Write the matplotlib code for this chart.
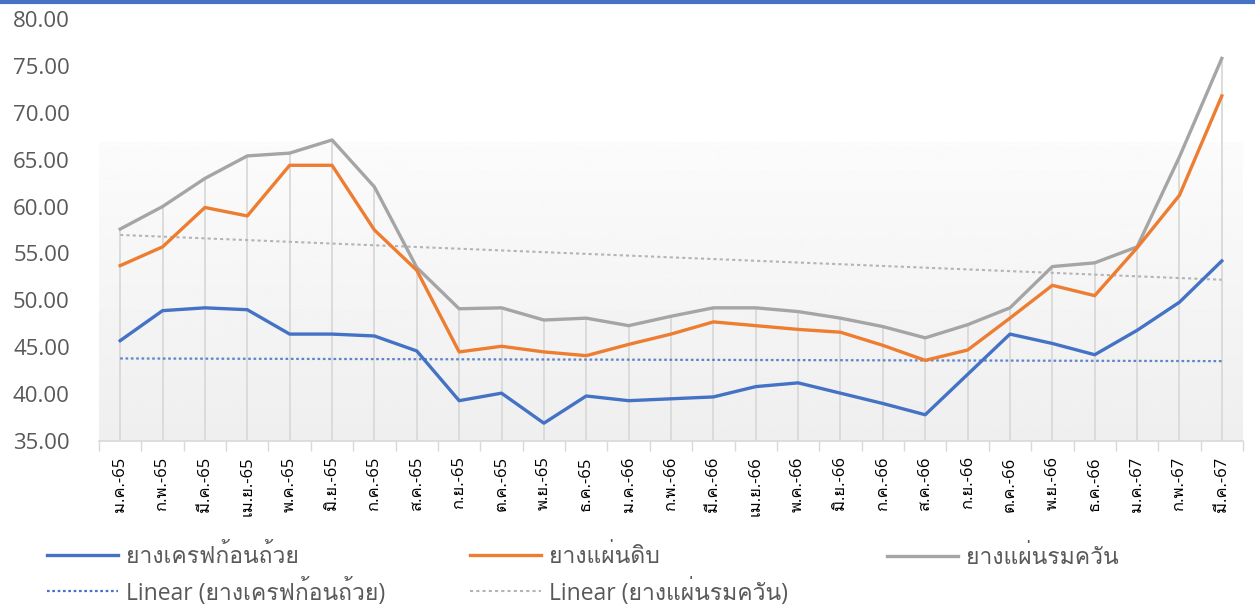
#!/usr/bin/env python3
"""
plot.py
Monthly rubber prices (baht/kg) with linear trend lines.
Saves out.png
"""

import numpy as np
import matplotlib
matplotlib.use("Agg")
import matplotlib.pyplot as plt
from matplotlib import font_manager
from matplotlib.ft2font import FT2Font
from matplotlib.lines import Line2D

# --- Data ---
months = [
    "ม.ค.-65", "ก.พ.-65", "มี.ค.-65", "เม.ย.-65", "พ.ค.-65", "มิ.ย.-65",
    "ก.ค.-65", "ส.ค.-65", "ก.ย.-65", "ต.ค.-65", "พ.ย.-65", "ธ.ค.-65",
    "ม.ค.-66", "ก.พ.-66", "มี.ค.-66", "เม.ย.-66", "พ.ค.-66", "มิ.ย.-66",
    "ก.ค.-66", "ส.ค.-66", "ก.ย.-66", "ต.ค.-66", "พ.ย.-66", "ธ.ค.-66",
    "ม.ค.-67", "ก.พ.-67", "มี.ค.-67",
]
cup_lump = [45.7, 48.9, 49.2, 49.0, 46.4, 46.4, 46.2, 44.6, 39.3, 40.1,
            36.9, 39.8, 39.3, 39.5, 39.7, 40.8, 41.2, 40.1, 39.0, 37.8,
            42.1, 46.4, 45.4, 44.2, 46.8, 49.8, 54.2]
raw_sheet = [53.7, 55.7, 59.9, 59.0, 64.4, 64.4, 57.5, 53.2, 44.5, 45.1,
             44.5, 44.1, 45.3, 46.4, 47.7, 47.3, 46.9, 46.6, 45.2, 43.6,
             44.7, 48.1, 51.6, 50.5, 55.6, 61.2, 71.8]
smoked_sheet = [57.6, 60.0, 63.0, 65.4, 65.7, 67.1, 62.1, 53.5, 49.1, 49.2,
                47.9, 48.1, 47.3, 48.3, 49.2, 49.2, 48.8, 48.1, 47.2, 46.0,
                47.4, 49.2, 53.6, 54.0, 55.7, 65.3, 75.8]

names = ["ยางเครฟก้อนถ้วย", "ยางแผ่นดิบ", "ยางแผ่นรมควัน"]
yticks = [35, 40, 45, 50, 55, 60, 65, 70, 75, 80]

BLUE = "#4472c4"
ORANGE = "#ed7d31"
GRAY = "#a5a5a5"
TREND_GRAY = "#b4b4b4"
TEXT = "#595959"


def find_thai_family():
    # pick any installed font that actually has Thai glyphs
    for f in font_manager.fontManager.ttflist:
        try:
            if 0x0E22 in FT2Font(f.fname).get_charmap():
                return f.name
        except Exception:
            pass
    return None


thai = find_thai_family()
families = ["Open Sans", "DejaVu Sans"]
if thai:
    families = ["Open Sans", thai, "DejaVu Sans"]
plt.rcParams["font.family"] = families


def linear_trend(values):
    x = np.arange(len(values))
    coeffs = np.polyfit(x, values, deg=1)
    return np.poly1d(coeffs)(x)


def add_legend_column(fig, handles, labels, x_px, y_px):
    # one legend per column so each column starts where the reference has it
    leg = fig.legend(handles, labels, loc="center left", frameon=False,
                     bbox_to_anchor=(x_px / 1255, 1 - y_px / 607),
                     borderpad=0, borderaxespad=0, fontsize=16.5,
                     handlelength=3.1, handletextpad=0.35, labelspacing=0.35,
                     labelcolor=TEXT)
    return leg


def main():
    fig = plt.figure(figsize=(12.55, 6.07), dpi=100)
    ax = fig.add_axes([99 / 1255, 1 - 441 / 607, 1144 / 1255, 422 / 607])
    x = np.arange(len(months))

    # soft gradient panel behind the plot
    grad = np.linspace(0.935, 0.985, 200).reshape(-1, 1)
    ax.imshow(grad, cmap="gray", vmin=0, vmax=1, aspect="auto",
              extent=(-0.5, 26.5, 35, 66.8), origin="lower", zorder=0)

    # drop lines from the highest series down to the axis
    top = np.max([cup_lump, raw_sheet, smoked_sheet], axis=0)
    ax.vlines(x, 35, top, colors="#d9d9d9", linewidth=1.3, zorder=1)

    ax.plot(x, linear_trend(cup_lump), color=BLUE, linestyle=(0, (1.2, 1.2)),
            linewidth=1.6, alpha=0.85, zorder=2)
    ax.plot(x, linear_trend(smoked_sheet), color=TREND_GRAY, linestyle=(0, (1.5, 1.5)),
            linewidth=1.5, zorder=2)

    ax.plot(x, smoked_sheet, color=GRAY, linewidth=2.4, zorder=3)
    ax.plot(x, raw_sheet, color=ORANGE, linewidth=2.4, zorder=4)
    ax.plot(x, cup_lump, color=BLUE, linewidth=2.4, zorder=5)

    ax.set_xlim(-0.5, 26.5)
    ax.set_ylim(35, 80)
    ax.set_yticks(yticks)
    ax.set_yticklabels([f"{v:.2f}" for v in yticks], fontsize=16, color=TEXT)
    ax.tick_params(axis="y", length=0, pad=21)

    ax.set_xticks(x)
    ax.set_xticklabels(months, rotation=90, fontsize=12, color="#000000")
    ax.set_xticks(np.arange(-0.5, 27, 1), minor=True)
    ax.tick_params(axis="x", which="major", length=0, pad=11)
    ax.tick_params(axis="x", which="minor", length=7, color="#d9d9d9", width=1)

    for side in ["top", "right", "left"]:
        ax.spines[side].set_visible(False)
    ax.spines["bottom"].set_color("#d9d9d9")
    ax.spines["bottom"].set_linewidth(1.2)

    # legend: solid series on row one, trend lines on row two
    solid = [Line2D([], [], color=c, linewidth=2.4) for c in (BLUE, ORANGE, GRAY)]
    blue_trend = Line2D([], [], color=BLUE, linewidth=1.6, linestyle=(0, (1.2, 1.2)))
    gray_trend = Line2D([], [], color=TREND_GRAY, linewidth=1.5, linestyle=(0, (1.5, 1.5)))
    add_legend_column(fig, [solid[0], blue_trend],
                      [names[0], "Linear (" + names[0] + ")"], 47, 575.5)
    add_legend_column(fig, [solid[1], gray_trend],
                      [names[1], "Linear (" + names[2] + ")"], 470, 575.5)
    add_legend_column(fig, [solid[2]], [names[2]], 887, 558)

    # blue rule along the top edge
    fig.add_artist(Line2D([0, 1], [0.996, 0.996], color=BLUE, linewidth=3,
                          transform=fig.transFigure))

    fig.savefig("out.png", dpi=100)
    plt.close(fig)


if __name__ == "__main__":
    main()
